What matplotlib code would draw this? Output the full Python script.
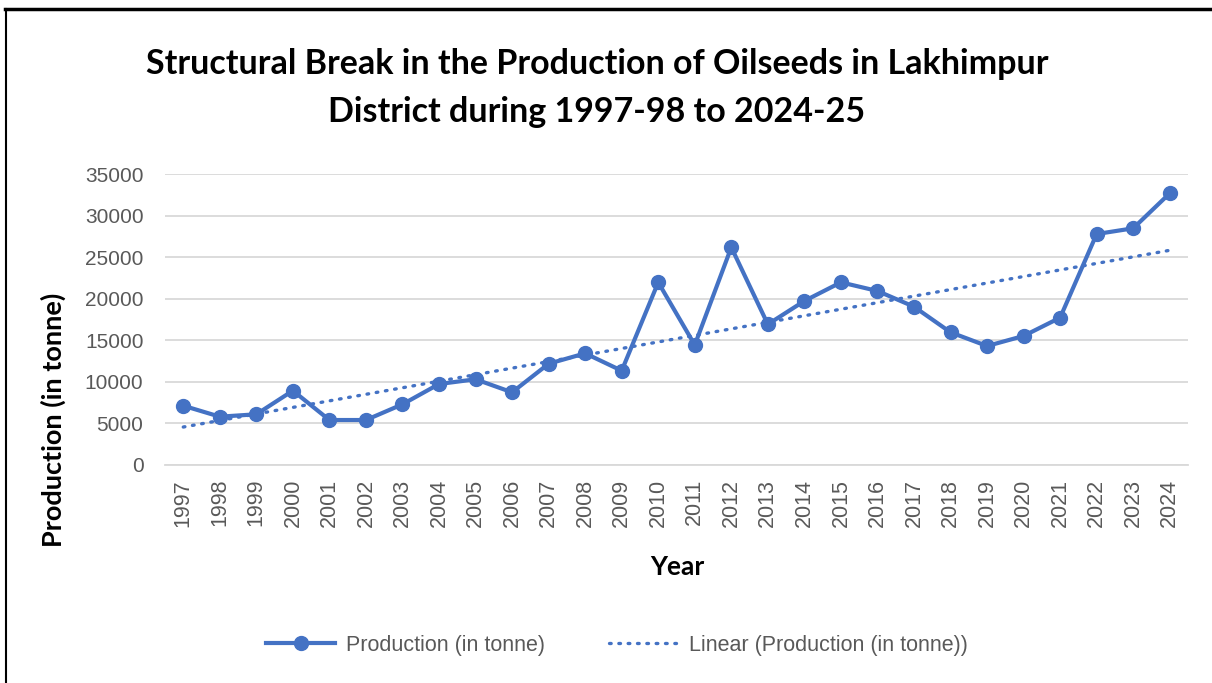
import matplotlib
matplotlib.use("Agg")
import matplotlib.pyplot as plt
from matplotlib.lines import Line2D
import numpy as np

years = [1997, 1998, 1999, 2000, 2001, 2002, 2003, 2004, 2005, 2006, 2007, 2008, 2009, 2010,
         2011, 2012, 2013, 2014, 2015, 2016, 2017, 2018, 2019, 2020, 2021, 2022, 2023, 2024]
production = [7130, 5810, 6100, 8940, 5410, 5410, 7300, 9740, 10310, 8740, 12180, 13430, 11340, 21970,
              14430, 26180, 16920, 19730, 21970, 20930, 19040, 15960, 14310, 15520, 17720, 27780, 28470, 32680]
yticks = [0, 5000, 10000, 15000, 20000, 25000, 30000, 35000]

title = "Structural Break in the Production of Oilseeds in Lakhimpur\nDistrict during 1997-98 to 2024-25"
ylabel = "Production (in tonne)"
xlabel = "Year"
series_name = "Production (in tonne)"
trend_name = "Linear (Production (in tonne))"

blue = "#4472C4"
W, H = 1212, 683
fig = plt.figure(figsize=(W / 100, H / 100), dpi=100)
ax = fig.add_axes([165 / W, 1 - 465 / H, (1188 - 165) / W, (465 - 174) / H])

x = np.arange(len(years))
ax.plot(x, production, color=blue, lw=3.0, marker="o", ms=10, solid_joinstyle="round",
        label=series_name, zorder=3)
coef = np.polyfit(x, production, 1)
trend = np.polyval(coef, x)
ax.plot(x, trend, color=blue, lw=2.4, linestyle=(0, (0.5, 2.3)), dash_capstyle="round",
        label=trend_name, zorder=2)

ax.set_xlim(-0.5, len(years) - 0.5)
ax.set_ylim(0, 35000)
ax.set_yticks(yticks)
ax.set_yticklabels([str(v) for v in yticks], fontsize=15, color="#595959", family="Liberation Sans")
ax.set_xticks(x)
ax.set_xticklabels([str(y) for y in years], rotation=90, fontsize=15.5, color="#595959",
                   family="Liberation Sans")
ax.tick_params(axis="both", length=0)
ax.tick_params(axis="y", pad=15.5)
ax.tick_params(axis="x", pad=10)
ax.grid(axis="y", color="#d9d9d9", lw=1.3)
ax.set_axisbelow(True)
for s in ["top", "right", "left"]:
    ax.spines[s].set_visible(False)
ax.spines["bottom"].set_color("#d9d9d9")
ax.spines["bottom"].set_linewidth(1.3)

fig.text(53 / W, 1 - 420 / H, ylabel, ha="center", va="center", rotation=90, fontsize=19.5,
         fontweight="bold", family="Lato")
fig.text(677 / W, 1 - 567 / H, xlabel, ha="center", va="center", fontsize=19, fontweight="bold",
         family="Lato")

fig.text(597 / W, 1 - 88 / H, title, ha="center", va="center", fontsize=24.5, fontweight="bold",
         family="Lato", linespacing=1.6)

leg = fig.legend(loc="center", bbox_to_anchor=(617 / W, 1 - 645 / H), ncol=2, frameon=False,
                 prop={"family": "Liberation Sans", "size": 15.5}, handlelength=3.2,
                 columnspacing=3.0, handletextpad=0.5)
for t in leg.get_texts():
    t.set_color("#595959")

fig.add_artist(Line2D([5 / W, 1], [1 - 9 / H, 1 - 9 / H], color="black", lw=2.5))
fig.add_artist(Line2D([6 / W, 6 / W], [0, 1 - 9 / H], color="black", lw=1.5))

fig.savefig("out.png", dpi=100)
